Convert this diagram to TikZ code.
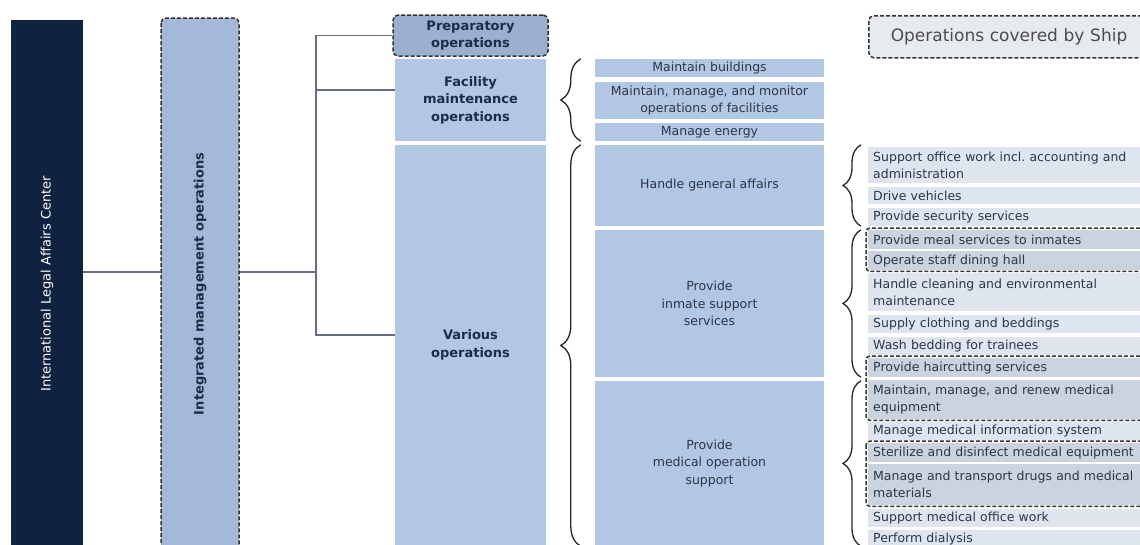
\documentclass[tikz,border=0pt]{standalone}
\usepackage{fontspec}
\setmainfont{DejaVu Sans}
\usetikzlibrary{decorations.pathreplacing}
\frenchspacing

\definecolor{navy}{HTML}{0F2341}
\definecolor{steel}{HTML}{A3B9D7}
\definecolor{steeldark}{HTML}{9AB0CE}
\definecolor{pale}{HTML}{B1C7E3}
\definecolor{mist}{HTML}{DEE5EF}
\definecolor{mistdark}{HTML}{CBD3DF}
\definecolor{legendgray}{HTML}{E7EAEF}
\definecolor{linegray}{HTML}{656E7A}
\definecolor{inkblue}{HTML}{1D2C4A}
\definecolor{ink}{HTML}{2E3547}

\begin{document}
\begin{tikzpicture}[x=1pt,y=-1pt,
  block/.style={fill=pale,inner sep=0pt,align=center,text=ink,font=\fontsize{12.5}{17.5}\selectfont},
  boldblock/.style={block,text=inkblue,font=\bfseries\fontsize{13}{17.5}\selectfont},
  dashbox/.style={draw=black!80,dash pattern=on 4pt off 2pt,line width=1.5pt,rounded corners=5pt},
  item/.style={anchor=north west,fill=mist,inner xsep=5pt,inner ysep=0pt,text width=290pt,align=left,text=ink,font=\fontsize{12.5}{17}\selectfont},
  shipitem/.style={item,fill=mistdark},
  link/.style={draw=linegray,line width=1.8pt},
  curly/.style={draw=black!85,line width=1.3pt,decorate,decoration={brace,amplitude=#1}},
]
\useasboundingbox (0,0) rectangle (1140,544);

	% the two rotated columns (anchors turn with the node: south = right side)
	\node[fill=navy,rotate=90,minimum width=528pt,minimum height=72pt,inner sep=0pt,text=white,font=\fontsize{13}{15}\selectfont] (ilac) at (47,284) {International Legal Affairs Center};
	\node[dashbox,fill=steel,rotate=90,minimum width=532pt,minimum height=78pt,inner sep=0pt,text=inkblue,font=\bfseries\fontsize{13}{15}\selectfont] (integ) at (200,284) {Integrated management operations};

	\node[boldblock,dashbox,fill=steeldark,minimum width=155pt,minimum height=41pt] (prep)    at (470.5,35.5) {Preparatory\\operations};
	\node[boldblock,minimum width=151pt,minimum height=82pt]  (facil)   at (470.5,100)  {Facility\\maintenance\\operations};
	\node[boldblock,minimum width=151pt,minimum height=400pt] (various) at (470.5,345)  {Various\\operations};

	\node[block,minimum width=229pt,minimum height=18pt]  (build)   at (709.5,68)    {Maintain buildings};
	\node[block,minimum width=229pt,minimum height=37pt]  (facops)  at (709.5,100.5) {Maintain, manage, and monitor\\operations of facilities};
	\node[block,minimum width=229pt,minimum height=18pt]  (energy)  at (709.5,132)   {Manage energy};
	\node[block,minimum width=229pt,minimum height=81pt]  (general) at (709.5,185.5) {Handle general affairs};
	\node[block,minimum width=229pt,minimum height=147pt] (inmate)  at (709.5,303.5) {Provide\\inmate support\\services};
	\node[block,minimum width=229pt,minimum height=165pt] (medical) at (709.5,463.5) {Provide\\medical operation\\support};

	\node[dashbox,fill=legendgray,anchor=north west,minimum height=42pt,inner xsep=22pt,text width=252pt,align=left,text=black!70,font=\fontsize{17}{19}\selectfont] (legend) at (868,15) {Operations covered by Ship};

	\node[item,minimum height=36pt]     (office)    at (868,147) {Support office work incl. accounting and\\administration};
	\node[item,minimum height=17pt]     (drive)     at (868,187) {Drive vehicles};
	\node[item,minimum height=18pt]     (security)  at (868,208) {Provide security services};
	\node[shipitem,minimum height=19pt] (meal)      at (868,230) {Provide meal services to inmates};
	\node[shipitem,minimum height=19pt] (dining)    at (868,251) {Operate staff dining hall};
	\node[item,minimum height=38pt]     (cleaning)  at (868,273) {Handle cleaning and environmental\\maintenance};
	\node[item,minimum height=18pt]     (clothing)  at (868,315) {Supply clothing and beddings};
	\node[item,minimum height=18pt]     (washing)   at (868,337) {Wash bedding for trainees};
	\node[shipitem,minimum height=19pt] (haircut)   at (868,358) {Provide haircutting services};
	\node[shipitem,minimum height=39pt] (equip)     at (868,380) {Maintain, manage, and renew medical\\equipment};
	\node[item,minimum height=18pt]     (medinfo)   at (868,422) {Manage medical information system};
	\node[shipitem,minimum height=19pt] (sterile)   at (868,443) {Sterilize and disinfect medical equipment};
	\node[shipitem,minimum height=41pt] (drugs)     at (868,464) {Manage and transport drugs and medical\\materials};
	\node[item,minimum height=18pt]     (medoffice) at (868,509) {Support medical office work};
	\node[item,minimum height=18pt]     (dialysis)  at (868,530) {Perform dialysis};

	% dashed frames round the ship rows
	\draw[dashbox,rounded corners=4pt] ([xshift=-2pt,yshift=2pt]meal.north west) rectangle ([yshift=-1pt]dining.south east);
	\draw[dashbox,rounded corners=4pt] ([xshift=-2pt,yshift=2pt]haircut.north west) rectangle ([yshift=-1pt]equip.south east);
	\draw[dashbox,rounded corners=4pt] ([xshift=-2pt,yshift=2pt]sterile.north west) rectangle ([yshift=-1pt]drugs.south east);

	\coordinate (fork) at (316,272);
	\draw[link] (ilac.south |- fork) -- (integ.north |- fork);
	\draw[link] (integ.south |- fork) -- (fork);
	\draw[link] (prep.west) -| (fork);
	\draw[link] ([yshift=10pt]facil.west) -| (fork);
	\draw[link] ([yshift=10pt]various.west) -| (fork);

	\draw[curly=20pt] ([xshift=-14pt]energy.south west) -- ([xshift=-14pt]build.north west);
	\draw[curly=20pt] ([xshift=-14pt]medical.south west) -- ([xshift=-14pt]general.north west);
	\draw[curly=18pt] ([xshift=-7pt]office.west |- general.south) -- ([xshift=-7pt]office.west |- general.north);
	\draw[curly=18pt] ([xshift=-7pt]office.west |- inmate.south) -- ([xshift=-7pt]office.west |- inmate.north);
	\draw[curly=18pt] ([xshift=-7pt]office.west |- medical.south) -- ([xshift=-7pt]office.west |- medical.north);

\end{tikzpicture}
\end{document}
